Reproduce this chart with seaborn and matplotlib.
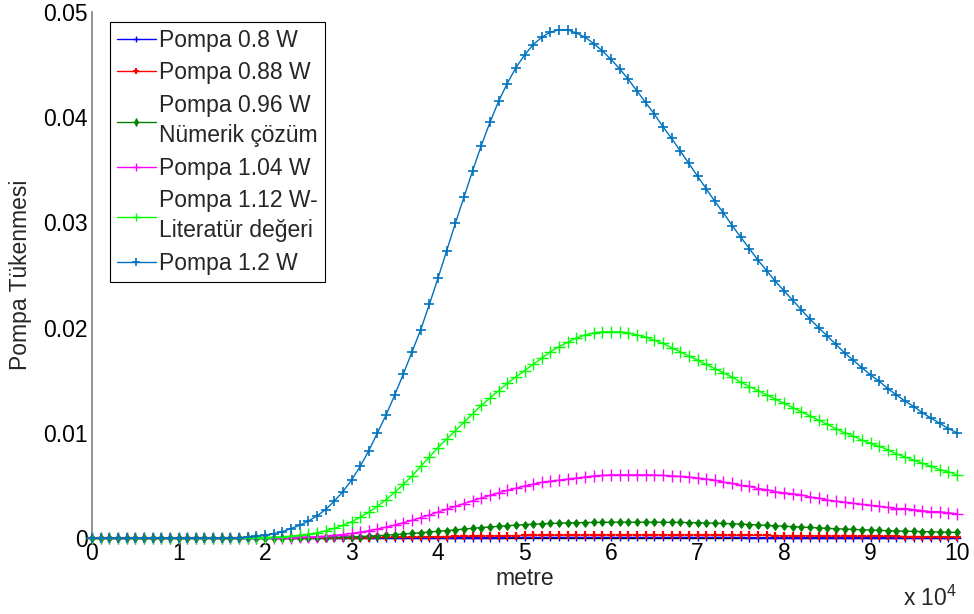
import numpy as np
import pandas as pd
import matplotlib
matplotlib.use("Agg")
import matplotlib.pyplot as plt
from matplotlib.ticker import FuncFormatter, FixedLocator
import seaborn as sns

# distance along fibre in metres (sample grid, 0 .. 1e5 m)
x_m = np.round(np.arange(0, 101) * 1000.0, 1)

p_080 = [0, 0, 0, 0, 0, 0, 0, 0, 0, 0,
         0, 0, 0, 0, 0, 0, 0, 0, 0, 0,
         0, 0, 0, 0, 0, 0, 0, 0, 0, 0,
         0, 0, 0, 0, 0, 0.00001, 0.00001, 0.00001, 0.00002, 0.00002,
         0.00002, 0.00003, 0.00003, 0.00003, 0.00004, 0.00004, 0.00004, 0.00004, 0.00005, 0.00005,
         0.00005, 0.00005, 0.00005, 0.00005, 0.00005, 0.00005, 0.00005, 0.00005, 0.00005, 0.00005,
         0.00005, 0.00005, 0.00005, 0.00005, 0.00005, 0.00005, 0.00005, 0.00005, 0.00005, 0.00005,
         0.00005, 0.00005, 0.00005, 0.00005, 0.00005, 0.00005, 0.00004, 0.00004, 0.00004, 0.00004,
         0.00004, 0.00004, 0.00004, 0.00004, 0.00004, 0.00004, 0.00004, 0.00004, 0.00004, 0.00004,
         0.00004, 0.00003, 0.00003, 0.00003, 0.00003, 0.00003, 0.00003, 0.00003, 0.00003, 0.00003,
         0.00003]

p_088 = [0, 0, 0, 0, 0, 0, 0, 0, 0, 0,
         0, 0, 0, 0, 0, 0, 0, 0, 0, 0,
         0, 0, 0, 0, 0, 0, 0, 0, 0, 0.00001,
         0.00002, 0.00003, 0.00004, 0.00005, 0.00006, 0.00007, 0.00008, 0.00009, 0.0001, 0.00011,
         0.00012, 0.00014, 0.00015, 0.00016, 0.00018, 0.00019, 0.0002, 0.00021, 0.00022, 0.00023,
         0.00024, 0.00025, 0.00026, 0.00027, 0.00027, 0.00028, 0.00028, 0.00029, 0.00029, 0.0003,
         0.0003, 0.0003, 0.0003, 0.0003, 0.0003, 0.0003, 0.0003, 0.0003, 0.0003, 0.00029,
         0.00029, 0.00028, 0.00028, 0.00027, 0.00027, 0.00026, 0.00025, 0.00025, 0.00024, 0.00023,
         0.00022, 0.00022, 0.00021, 0.0002, 0.0002, 0.00019, 0.00018, 0.00018, 0.00017, 0.00017,
         0.00016, 0.00016, 0.00015, 0.00015, 0.00014, 0.00014, 0.00013, 0.00013, 0.00013, 0.00012,
         0.00012]

p_096 = [0, 0, 0, 0, 0, 0, 0, 0, 0, 0,
         0, 0, 0, 0, 0, 0, 0, 0, 0, 0,
         0, 0, 0, 0, 0.00001, 0.00002, 0.00003, 0.00004, 0.00006, 0.00008,
         0.00011, 0.00014, 0.00018, 0.00022, 0.00027, 0.00032, 0.00038, 0.00044, 0.0005, 0.00057,
         0.00064, 0.00071, 0.00078, 0.00085, 0.00092, 0.00099, 0.00105, 0.00111, 0.00117, 0.00122,
         0.00127, 0.00131, 0.00135, 0.00138, 0.00141, 0.00143, 0.00145, 0.00147, 0.00148, 0.00149,
         0.0015, 0.0015, 0.0015, 0.0015, 0.0015, 0.0015, 0.0015, 0.00149, 0.00148, 0.00147,
         0.00145, 0.00143, 0.00141, 0.00138, 0.00135, 0.00132, 0.00128, 0.00124, 0.0012, 0.00116,
         0.00112, 0.00108, 0.00104, 0.001, 0.00096, 0.00092, 0.00088, 0.00085, 0.00082, 0.00079,
         0.00076, 0.00073, 0.0007, 0.00067, 0.00065, 0.00063, 0.00061, 0.00059, 0.00057, 0.00055,
         0.00053]

p_104 = [0, 0, 0, 0, 0, 0, 0, 0, 0, 0,
         0, 0, 0, 0, 0, 0, 0, 0, 0, 0,
         0, 0.00001, 0.00002, 0.00004, 0.00006, 0.00009, 0.00013, 0.00018, 0.00025, 0.00033,
         0.00043, 0.00055, 0.00069, 0.00085, 0.00103, 0.00123, 0.00145, 0.00168, 0.00193, 0.00219,
         0.00246, 0.00273, 0.0030, 0.00327, 0.00354, 0.0038, 0.00405, 0.00429, 0.00452, 0.00473,
         0.00493, 0.0051, 0.0053, 0.0054, 0.0055, 0.0056, 0.0057, 0.0058, 0.0059, 0.00595,
         0.0060, 0.0060, 0.0060, 0.0060, 0.0060, 0.00598, 0.00595, 0.0059, 0.00585, 0.0058,
         0.0057, 0.0056, 0.0055, 0.0053, 0.0052, 0.0050, 0.0049, 0.0047, 0.0046, 0.0044,
         0.0043, 0.0042, 0.0041, 0.0039, 0.0038, 0.0036, 0.0035, 0.0034, 0.0033, 0.0032,
         0.0031, 0.0030, 0.0029, 0.0028, 0.0028, 0.0027, 0.0026, 0.0025, 0.0025, 0.0024,
         0.0023]

p_112 = [0, 0, 0, 0, 0, 0, 0, 0, 0, 0,
         0, 0, 0, 0, 0, 0, 0, 0, 0.00001, 0.00002,
         0.00004, 0.00007, 0.00011, 0.00017, 0.00025, 0.00036, 0.0005, 0.00068, 0.00091, 0.0012,
         0.00155, 0.00197, 0.00246, 0.00302, 0.00365, 0.00435, 0.0051, 0.0059, 0.0068, 0.0077,
         0.0086, 0.0094, 0.0102, 0.0110, 0.0118, 0.0126, 0.0133, 0.0140, 0.0147, 0.0153,
         0.0159, 0.0165, 0.0171, 0.0177, 0.0182, 0.0186, 0.0190, 0.0193, 0.0195, 0.0196,
         0.0196, 0.0196, 0.0195, 0.0193, 0.0191, 0.0188, 0.0185, 0.0181, 0.0177, 0.0173,
         0.0169, 0.0165, 0.0161, 0.0157, 0.0153, 0.0148, 0.0144, 0.0140, 0.0136, 0.0132,
         0.0128, 0.0124, 0.0120, 0.0116, 0.0112, 0.0108, 0.0104, 0.0100, 0.0097, 0.0093,
         0.0090, 0.0087, 0.0084, 0.0080, 0.0077, 0.0074, 0.0071, 0.0068, 0.0065, 0.0063,
         0.0060]

p_120 = [0, 0, 0, 0, 0, 0, 0, 0, 0, 0,
         0, 0, 0, 0, 0, 0, 0.00002, 0.00004, 0.00008, 0.00015,
         0.00025, 0.0004, 0.0006, 0.0009, 0.0012, 0.0016, 0.0021, 0.0027, 0.0035, 0.0044,
         0.0055, 0.0068, 0.0083, 0.0100, 0.0117, 0.0136, 0.0156, 0.0177, 0.0198, 0.0222,
         0.0247, 0.0273, 0.0299, 0.0324, 0.0349, 0.0373, 0.0395, 0.0415, 0.0432, 0.0447,
         0.0459, 0.0469, 0.0476, 0.0481, 0.0483, 0.0483, 0.0480, 0.0476, 0.0470, 0.0463,
         0.0455, 0.0446, 0.0436, 0.0425, 0.0414, 0.0403, 0.0391, 0.0380, 0.0368, 0.0356,
         0.0344, 0.0332, 0.0320, 0.0309, 0.0297, 0.0286, 0.0275, 0.0264, 0.0254, 0.0244,
         0.0235, 0.0226, 0.0217, 0.0208, 0.0200, 0.0192, 0.0184, 0.0176, 0.0169, 0.0162,
         0.0155, 0.0149, 0.0142, 0.0136, 0.0130, 0.0125, 0.0119, 0.0114, 0.0109, 0.0104,
         0.0100]

labels = ["Pompa 0.8 W", "Pompa 0.88 W", "Pompa 0.96 W\nNümerik çözüm",
          "Pompa 1.04 W", "Pompa 1.12 W-\nLiteratür değeri", "Pompa 1.2 W"]
series = [p_080, p_088, p_096, p_104, p_112, p_120]
colors = ["#0000ff", "#ff0000", "#008000", "#ff00ff", "#00ff00", "#0072bd"]
markers = ["+", "+", "d", "+", "+", "+"]
msizes = [6, 6, 4.5, 8, 8, 7.5]
mews = [1.0, 1.6, 0.6, 1.0, 1.0, 1.2]

x_ticks = [0, 10000, 20000, 30000, 40000, 50000, 60000, 70000, 80000, 90000, 100000]
y_ticks = [0, 0.01, 0.02, 0.03, 0.04, 0.05]

sns.set_style("white")
plt.rcParams["font.family"] = ["Liberation Sans", "DejaVu Sans"]
plt.rcParams["mathtext.fontset"] = "custom"
plt.rcParams["mathtext.rm"] = "Liberation Sans"

for s in series:
    assert len(s) == len(x_m)

fig = plt.figure(figsize=(9.74, 6.14), dpi=100)
ax = fig.add_axes([92 / 974, 76 / 614, 865 / 974, 526 / 614])

for lab, ys, c, mk, ms, mw in zip(labels, series, colors, markers, msizes, mews):
    df = pd.DataFrame({"x": x_m, "y": ys})
    sns.lineplot(data=df, x="x", y="y", ax=ax, color=c, marker=mk,
                 markersize=ms, markeredgewidth=mw, markeredgecolor=c,
                 markerfacecolor=c, linewidth=1.0, label=lab, clip_on=False,
                 zorder=3)

ax.set_xlim(0, 100000)
ax.set_ylim(0, 0.05)
ax.xaxis.set_major_locator(FixedLocator(x_ticks))
ax.yaxis.set_major_locator(FixedLocator(y_ticks))
ax.xaxis.set_major_formatter(FuncFormatter(lambda v, p: f"{v / 1e4:g}"))
ax.yaxis.set_major_formatter(FuncFormatter(lambda v, p: f"{v:g}"))

fs = 16.5
ax.tick_params(axis="both", direction="in", length=5, width=0.8, labelsize=fs,
               colors="black", pad=3)
ax.tick_params(axis="y", color="#808080")
for side in ["top", "right"]:
    ax.spines[side].set_visible(False)
ax.spines["left"].set_color("#808080")
ax.spines["left"].set_linewidth(1.2)
ax.spines["bottom"].set_color("black")
ax.spines["bottom"].set_linewidth(1.0)

ax.set_xlabel("metre", fontsize=fs, labelpad=1)
ax.set_ylabel("Pompa Tükenmesi", fontsize=fs, labelpad=8)
ax.text(1.0, -0.115, "x 10$^{4}$", transform=ax.transAxes, ha="right",
        va="center", fontsize=fs)

leg = ax.legend(loc="upper left", bbox_to_anchor=(18 / 865, 516 / 526),
                borderaxespad=0, fontsize=fs, frameon=True, fancybox=False,
                framealpha=1, edgecolor="black", handlelength=1.7,
                handletextpad=0.15, labelspacing=0.42, borderpad=0.3,
                markerscale=0.8)
for t in leg.get_texts():
    t.set_linespacing(1.38)
leg.get_frame().set_linewidth(0.8)

fig.savefig("out.png", dpi=100)
